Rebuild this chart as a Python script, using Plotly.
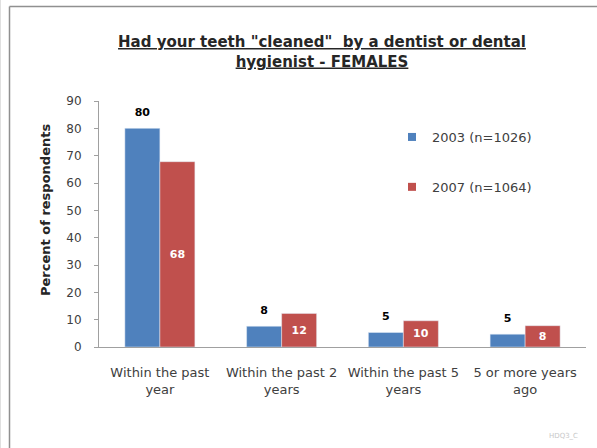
import plotly.graph_objects as go

categories = ["Within the past<br>year", "Within the past 2<br>years",
              "Within the past 5<br>years", "5 or more years<br>ago"]
series_names = ["2003 (n=1026)", "2007 (n=1064)"]
values_2003 = [80, 7.6, 5.3, 4.7]
values_2007 = [67.8, 12.3, 9.6, 7.8]
colors = ["#4F81BD", "#C0504D"]

W, H = 597, 448
L, R, T, B = 99, 11, 101, 101
FONT = "DejaVu Sans"

fig = go.Figure()
fig.add_trace(go.Bar(
    x=categories, y=values_2003, name=series_names[0], marker_color=colors[0],
    offsetgroup="a", showlegend=False,
))
fig.add_trace(go.Bar(
    x=categories, y=values_2007, name=series_names[1], marker_color=colors[1],
    offsetgroup="b", showlegend=False,
    texttemplate="<b>%{y:.0f}</b>", textposition="inside",
    insidetextanchor="middle",
    textfont=dict(family=FONT, size=11, color="#FFFFFF"),
))
# value labels above the 2003 bars
fig.add_trace(go.Scatter(
    x=categories, y=values_2003, mode="markers+text", offsetgroup="a",
    texttemplate="<b>%{y:.0f}</b>", textposition="top center",
    textfont=dict(family=FONT, size=11, color="#000000"),
    marker=dict(size=14, opacity=0), showlegend=False, hoverinfo="skip",
    cliponaxis=False,
))
# legend entries with small square keys
for i, (nm, c) in enumerate(zip(series_names, colors)):
    fig.add_trace(go.Scatter(
        x=[None], y=[None], mode="markers", name=nm, offsetgroup="ab"[i],
        marker=dict(symbol="square", size=8, color=c),
        legendgroup=nm, showlegend=True,
    ))

pw = W - L - R
ph = H - T - B
def px_x(p):
    return (p - L) / pw
def px_y(p):
    return (H - B - p) / ph

fig.update_layout(
    width=W, height=H,
    margin=dict(l=L, r=R, t=T, b=B),
    paper_bgcolor="white", plot_bgcolor="white",
    barmode="group", scattermode="group", bargap=0.425, bargroupgap=0,
    font=dict(family=FONT, color="#404040"),
    title=dict(
        text="<b>Had your teeth \"cleaned\"  by a dentist or dental<br>hygienist - FEMALES</b>",
        x=322 / W, xanchor="center", xref="container",
        y=1 - 47 / H, yanchor="top", yref="container",
        font=dict(family=FONT, size=15, color="#262626", lineposition="under"),
    ),
    showlegend=True,
    legend=dict(
        x=px_x(392), y=px_y(122), xanchor="left", yanchor="top",
        font=dict(family=FONT, size=13, color="#404040"),
        tracegroupgap=30, traceorder="grouped",
        itemwidth=30, bgcolor="rgba(0,0,0,0)",
    ),
    xaxis=dict(
        showline=True, linecolor="#A0A0A0", linewidth=1,
        ticks="", showgrid=False, ticklabelstandoff=13,
        tickfont=dict(family=FONT, size=13, color="#404040"),
    ),
    yaxis=dict(
        range=[0, 90], dtick=10, showgrid=False, zeroline=False,
        showline=True, linecolor="#A0A0A0", linewidth=1,
        ticks="outside", ticklen=4, tickcolor="#A0A0A0",
        ticklabelstandoff=10,
        tickfont=dict(family=FONT, size=12, color="#404040"),
    ),
    annotations=[
        dict(text="<b>Percent of respondents</b>", textangle=-90,
             xref="paper", yref="paper", x=px_x(45), y=px_y(210),
             xanchor="center", yanchor="middle", showarrow=False,
             font=dict(family=FONT, size=13, color="#262626")),
        dict(text="HDQ3_C", xref="paper", yref="paper",
             x=px_x(580), y=px_y(436), xanchor="right", yanchor="middle",
             showarrow=False,
             font=dict(family=FONT, size=7, color="#C8C8C8")),
    ],
    shapes=[
        dict(type="line", xref="paper", yref="paper",
             x0=px_x(9.5), x1=px_x(W), y0=px_y(6.5), y1=px_y(6.5),
             line=dict(color="#909090", width=1.5)),
        dict(type="line", xref="paper", yref="paper",
             x0=px_x(9.5), x1=px_x(9.5), y0=px_y(6.5), y1=px_y(H),
             line=dict(color="#909090", width=1.5)),
        dict(type="line", xref="paper", yref="paper",
             x0=px_x(0.5), x1=px_x(0.5), y0=px_y(0), y1=px_y(H),
             line=dict(color="#E0E0E0", width=1)),
    ],
)

fig.write_html(
    "out.html",
    config={"displayModeBar": False},
    post_script="document.body.style.margin='0';document.body.style.overflow='hidden';",
)
